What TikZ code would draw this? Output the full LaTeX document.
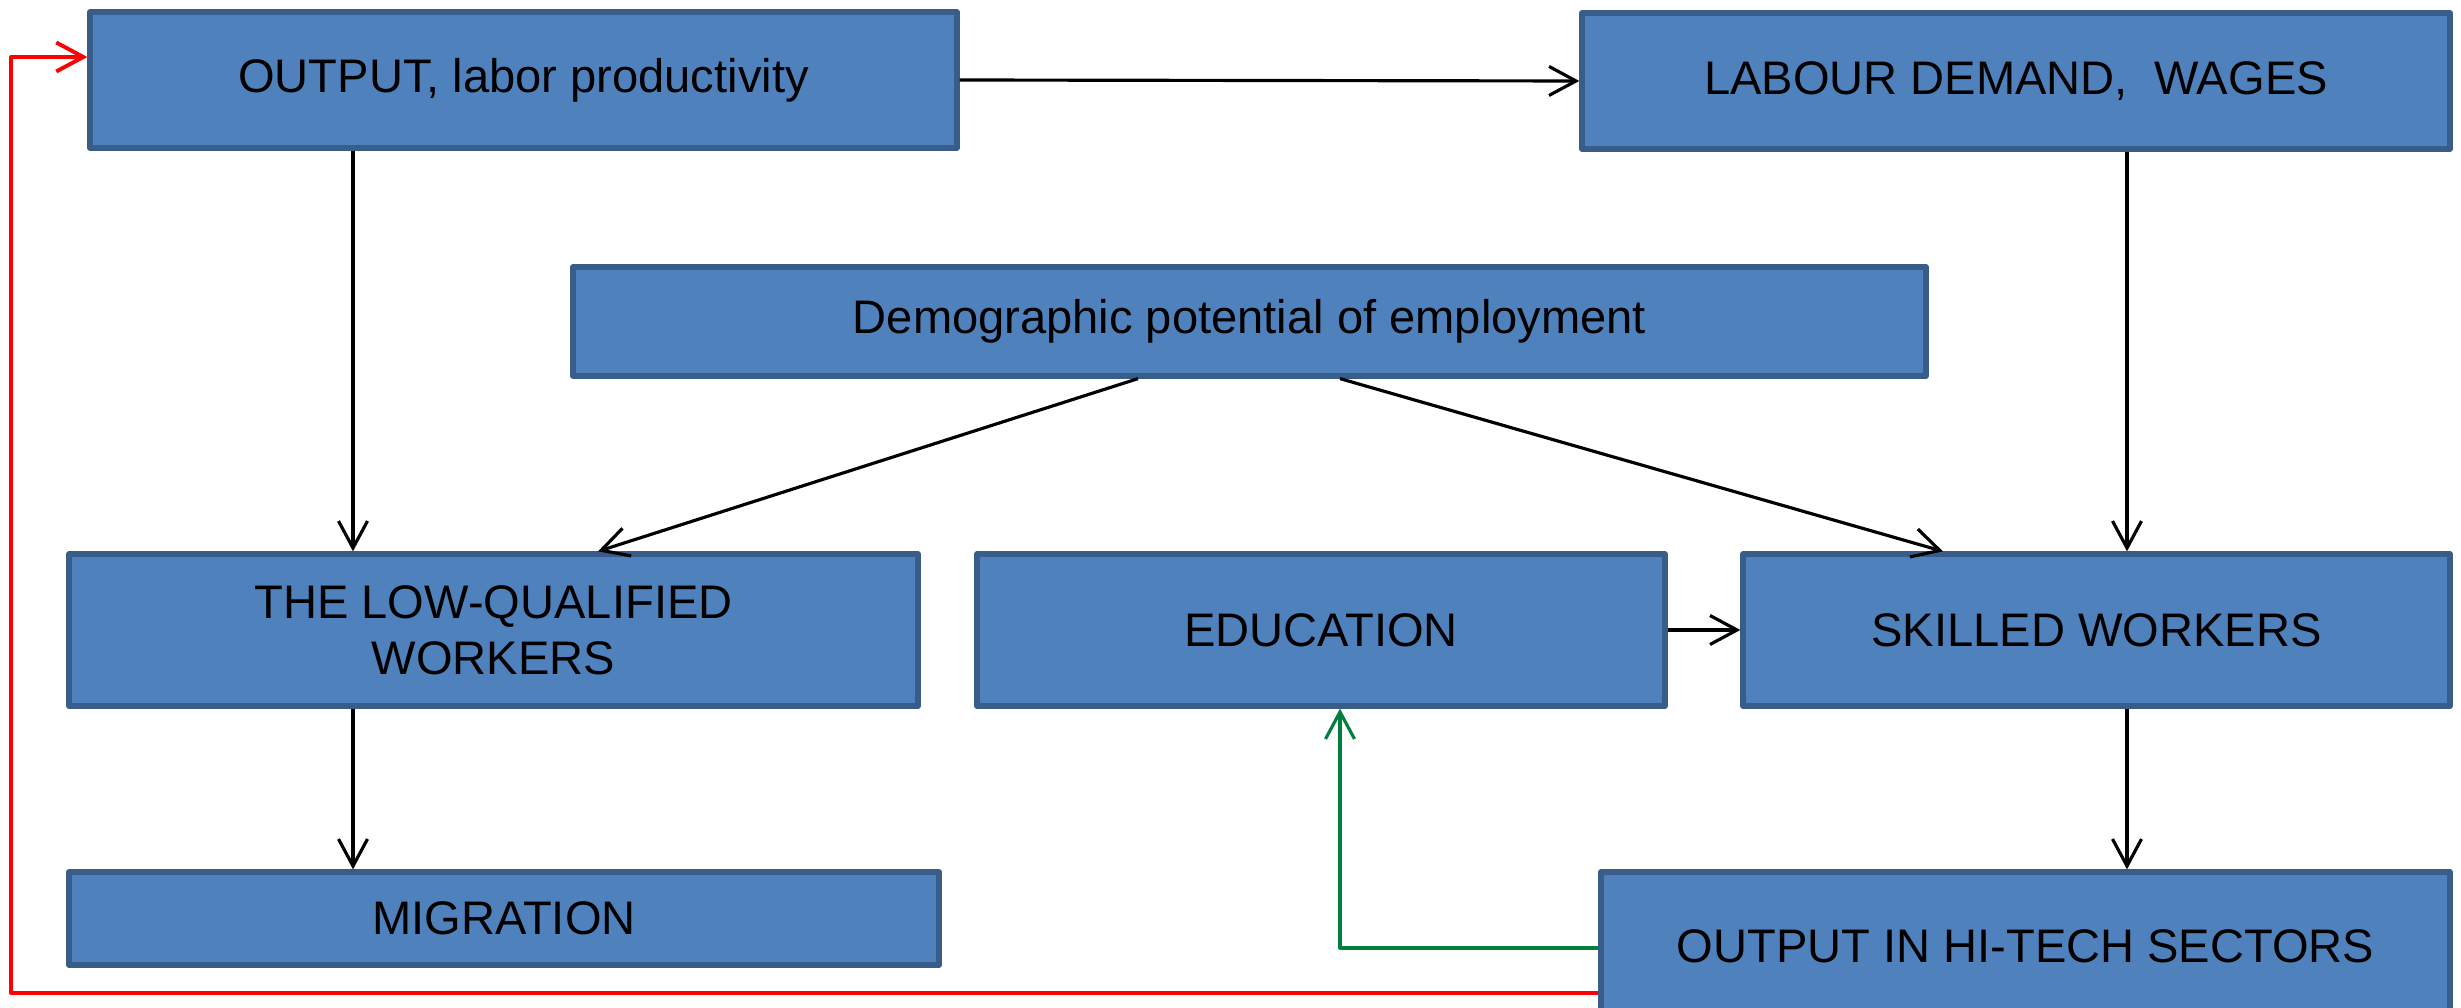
\documentclass[tikz,border=0pt]{standalone}
\usepackage{fontspec}
\setmainfont{Liberation Sans}
\usetikzlibrary{arrows.meta}
\definecolor{boxfill}{RGB}{79,129,189}
\definecolor{boxline}{RGB}{56,93,138}
\definecolor{loopgreen}{RGB}{0,128,60}
\begin{document}
\begin{tikzpicture}[y=-1cm, line join=round, >={Straight Barb[length=2.7mm,width=2.9mm]}, line width=0.9pt]
	\tikzset{box/.style={draw=boxline, fill=boxfill, line width=1.5pt, inner sep=0pt,
			align=center, font=\fontsize{13.4pt}{16pt}\selectfont}}
	\useasboundingbox (0,0) rectangle (24.61,10.08);
	% boxes
	\node[box, minimum width=8.67cm, minimum height=1.36cm] (out) at (5.235,0.80) {OUTPUT, labor productivity};
	\node[box, minimum width=8.68cm, minimum height=1.36cm] (lab) at (20.16,0.81) {LABOUR DEMAND,~~WAGES};
	\node[box, minimum width=13.53cm, minimum height=1.09cm] (dem) at (12.495,3.215) {Demographic potential of employment};
	\node[box, minimum width=8.49cm, minimum height=1.52cm] (low) at (4.935,6.30) {THE LOW-QUALIFIED\\WORKERS};
	\node[box, minimum width=6.88cm, minimum height=1.52cm] (edu) at (13.21,6.30) {EDUCATION};
	\node[box, minimum width=7.07cm, minimum height=1.52cm] (skl) at (20.965,6.30) {SKILLED WORKERS};
	\node[box, minimum width=8.70cm, minimum height=0.93cm] (mig) at (5.04,9.185) {MIGRATION};
	\node[box, minimum width=8.49cm, minimum height=1.48cm] (hit) at (20.255,9.46) {OUTPUT IN HI-TECH SECTORS};
	% black links
	\draw[->] (out.east) -- (lab.west);
	\draw[->] (out.south -| 3.53,0) -- (low.north -| 3.53,0);
	\draw[->] (lab.south -| 21.27,0) -- (skl.north -| 21.27,0);
	\draw[->] (dem.south -| 11.38,0) -- (low.north -| 5.98,0);
	\draw[->] (dem.south -| 13.40,0) -- (skl.north -| 19.43,0);
	\draw[->] (edu.east) -- (skl.west);
	\draw[->] (low.south -| 3.53,0) -- (mig.north -| 3.53,0);
	\draw[->] (skl.south -| 21.27,0) -- (hit.north -| 21.27,0);
	% feedback loops
	\draw[->, loopgreen] (hit.west |- 0,9.48) -| (edu.south -| 13.40,0);
	\draw[->, red, line width=1.1pt] (hit.west |- 0,9.93) -| (0.11,0.57) -- (out.west |- 0,0.57);
\end{tikzpicture}
\end{document}
